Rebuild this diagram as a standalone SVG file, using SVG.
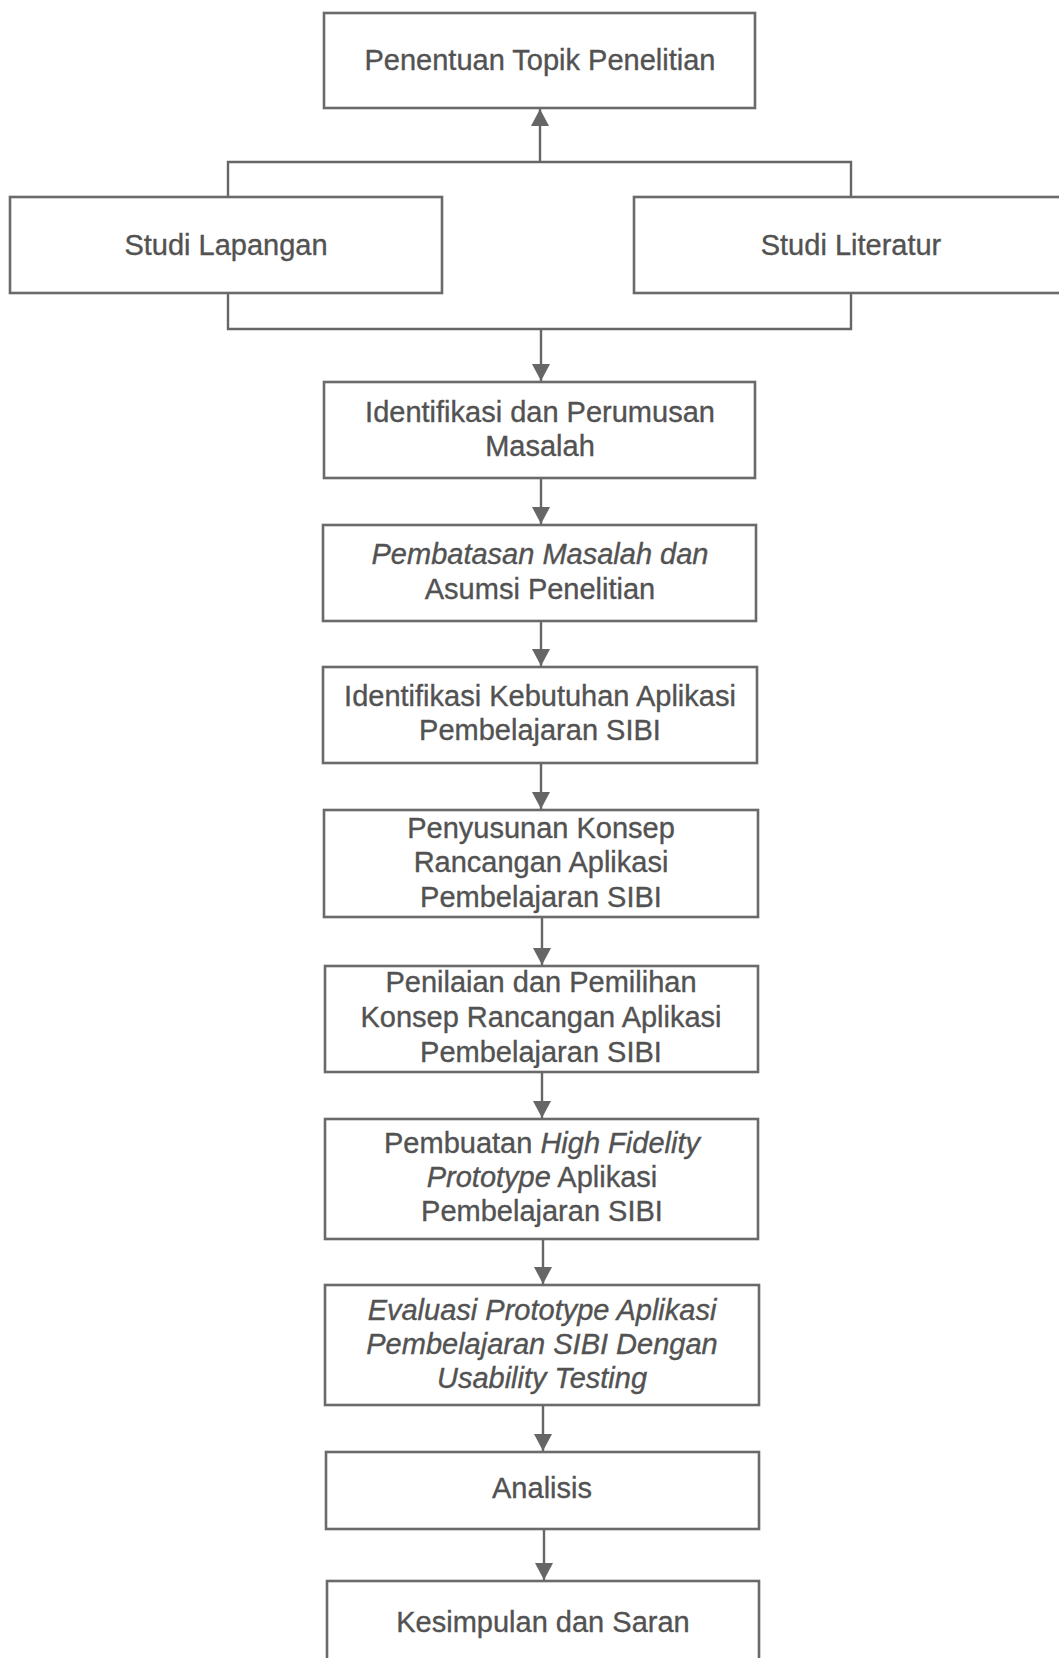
<svg xmlns="http://www.w3.org/2000/svg" width="1059" height="1658" viewBox="0 0 1059 1658">
<style>
.box{fill:#fff;stroke:#6a6a6a;stroke-width:2.6}
.con{fill:none;stroke:#666;stroke-width:2.4}
text{font-family:"Liberation Sans",Arial,Helvetica,sans-serif;font-size:29px;fill:#525252;stroke:#525252;stroke-width:0.35;text-anchor:middle}
.it{font-style:italic}
</style>
<defs>
<marker id="ah" viewBox="0 0 17 18" refX="17" refY="9" markerWidth="17" markerHeight="18" markerUnits="userSpaceOnUse" orient="auto">
<path d="M0,0 L17,9 L0,18 Z" fill="#666"/>
</marker>
</defs>
<rect x="0" y="0" width="1059" height="1658" fill="#fff"/>

<g id="connectors">
<path class="con" d="M540,162 V109" marker-end="url(#ah)"/>
<path class="con" d="M228,197 V162 H851 V197"/>
<path class="con" d="M228,293 V329 H851 V293"/>
<path class="con" d="M541,329 V381" marker-end="url(#ah)"/>
<path class="con" d="M541,478 V524" marker-end="url(#ah)"/>
<path class="con" d="M541,621 V666" marker-end="url(#ah)"/>
<path class="con" d="M541,763 V809" marker-end="url(#ah)"/>
<path class="con" d="M542,917 V965" marker-end="url(#ah)"/>
<path class="con" d="M542,1072 V1118" marker-end="url(#ah)"/>
<path class="con" d="M543,1239 V1284" marker-end="url(#ah)"/>
<path class="con" d="M543,1405 V1451" marker-end="url(#ah)"/>
<path class="con" d="M544,1529 V1580" marker-end="url(#ah)"/>
</g>

<g id="n-topik">
<rect class="box" x="324" y="13" width="431" height="95"/>
<text x="540" y="70">Penentuan Topik Penelitian</text>
</g>
<g id="n-lapangan">
<rect class="box" x="10" y="197" width="432" height="96"/>
<text x="226" y="255">Studi Lapangan</text>
</g>
<g id="n-literatur">
<rect class="box" x="634" y="197" width="440" height="96"/>
<text x="851" y="255">Studi Literatur</text>
</g>
<g id="n-identifikasi">
<rect class="box" x="324" y="382" width="431" height="96"/>
<text x="540" y="422">Identifikasi dan Perumusan</text>
<text x="540" y="456">Masalah</text>
</g>
<g id="n-pembatasan">
<rect class="box" x="323" y="525" width="433" height="96"/>
<text x="540" y="564" class="it">Pembatasan Masalah dan</text>
<text x="540" y="599">Asumsi Penelitian</text>
</g>
<g id="n-kebutuhan">
<rect class="box" x="323" y="667" width="434" height="96"/>
<text x="540" y="706">Identifikasi Kebutuhan Aplikasi</text>
<text x="540" y="740">Pembelajaran SIBI</text>
</g>
<g id="n-penyusunan">
<rect class="box" x="324" y="810" width="434" height="107"/>
<text x="541" y="838">Penyusunan Konsep</text>
<text x="541" y="872">Rancangan Aplikasi</text>
<text x="541" y="907">Pembelajaran SIBI</text>
</g>
<g id="n-penilaian">
<rect class="box" x="325" y="966" width="433" height="106"/>
<text x="541" y="992">Penilaian dan Pemilihan</text>
<text x="541" y="1027">Konsep Rancangan Aplikasi</text>
<text x="541" y="1062">Pembelajaran SIBI</text>
</g>
<g id="n-pembuatan">
<rect class="box" x="325" y="1119" width="433" height="120"/>
<text x="542" y="1153">Pembuatan <tspan class="it">High Fidelity</tspan></text>
<text x="542" y="1187"><tspan class="it">Prototype</tspan> Aplikasi</text>
<text x="542" y="1221">Pembelajaran SIBI</text>
</g>
<g id="n-evaluasi">
<rect class="box" x="325" y="1285" width="434" height="120"/>
<text x="542" y="1320" class="it">Evaluasi Prototype Aplikasi</text>
<text x="542" y="1354" class="it">Pembelajaran SIBI Dengan</text>
<text x="542" y="1388" class="it">Usability Testing</text>
</g>
<g id="n-analisis">
<rect class="box" x="326" y="1452" width="433" height="77"/>
<text x="542" y="1498">Analisis</text>
</g>
<g id="n-kesimpulan">
<rect class="box" x="327" y="1581" width="432" height="92"/>
<text x="543" y="1632">Kesimpulan dan Saran</text>
</g>
</svg>
